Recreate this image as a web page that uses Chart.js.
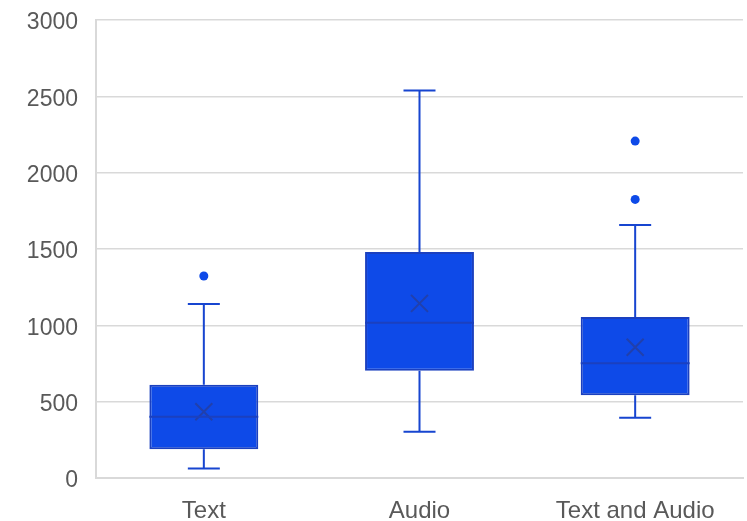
<!DOCTYPE html>
<html><head><meta charset="utf-8">
<script src="https://cdn.jsdelivr.net/npm/chart.js@4"></script>
<style>html,body{margin:0;padding:0;background:#fff}#w{width:747px;height:521px}</style>
</head><body><div id="w"><canvas id="c"></canvas></div>
<script>
const categories = ['Text', 'Audio', 'Text and Audio'];
const q1Values = [188, 703, 542];
const q3Values = [611, 1480, 1055];
const medianValues = [401, 1017, 751];
const meanValues = [434, 1144, 856];
const whiskerLow = [63, 303, 395];
const whiskerHigh = [1140, 2539, 1657];
const outliers = [[1323], [], [1825, 2207]];
const yTicks = [0, 500, 1000, 1500, 2000, 2500, 3000];

const fill = '#0e4ae8';
const dark = '#1b40bf';
const meanColor = '#2140ac';
const line = '#1745d0';

const outlierData = [];
outliers.forEach((arr, i) => arr.forEach(v => outlierData.push({x: categories[i], y: v})));

const boxPlugin = {
  id: 'boxExtras',
  afterDatasetsDraw(chart) {
    const ctx = chart.ctx;
    const xs = chart.scales.x, ys = chart.scales.y;
    const meta = chart.getDatasetMeta(0);
    ctx.save();
    categories.forEach((c, i) => {
      const bar = meta.data[i];
      const cx = xs.getPixelForValue(i);
      const half = bar.width / 2;
      const capHalf = 16;
      ctx.strokeStyle = line;
      ctx.lineWidth = 2;
      ctx.beginPath();
      ctx.moveTo(cx, ys.getPixelForValue(q3Values[i]));
      ctx.lineTo(cx, ys.getPixelForValue(whiskerHigh[i]));
      ctx.moveTo(cx - capHalf, ys.getPixelForValue(whiskerHigh[i]));
      ctx.lineTo(cx + capHalf, ys.getPixelForValue(whiskerHigh[i]));
      ctx.moveTo(cx, ys.getPixelForValue(q1Values[i]));
      ctx.lineTo(cx, ys.getPixelForValue(whiskerLow[i]));
      ctx.moveTo(cx - capHalf, ys.getPixelForValue(whiskerLow[i]));
      ctx.lineTo(cx + capHalf, ys.getPixelForValue(whiskerLow[i]));
      ctx.stroke();
      ctx.strokeStyle = dark;
      ctx.lineWidth = 2;
      ctx.beginPath();
      const my = ys.getPixelForValue(medianValues[i]);
      ctx.moveTo(cx - half, my);
      ctx.lineTo(cx + half, my);
      ctx.stroke();
    });
    ctx.restore();
  }
};

new Chart(document.getElementById('c'), {
  type: 'bar',
  data: {
    labels: categories,
    datasets: [
      {
        type: 'bar',
        data: categories.map((c, i) => [q1Values[i], q3Values[i]]),
        backgroundColor: fill,
        borderColor: dark,
        borderWidth: 2,
        borderSkipped: false,
        categoryPercentage: 1,
        barPercentage: 0.505,
        order: 3
      },
      {
        type: 'line',
        data: categories.map((c, i) => ({x: c, y: meanValues[i]})),
        showLine: false,
        pointStyle: 'crossRot',
        pointRadius: 12,
        pointBorderColor: meanColor,
        pointBorderWidth: 2,
        pointBackgroundColor: 'transparent',
        order: 1
      },
      {
        type: 'line',
        data: outlierData,
        showLine: false,
        pointStyle: 'circle',
        pointRadius: 4.5,
        pointBorderWidth: 0,
        pointBackgroundColor: fill,
        pointBorderColor: fill,
        order: 1
      }
    ]
  },
  options: {
    responsive: true,
    maintainAspectRatio: false,
    animation: false,
    events: [],
    layout: {autoPadding: false, padding: {left: 0, right: 4, top: 20, bottom: 0}},
    plugins: {legend: {display: false}, tooltip: {enabled: false}},
    scales: {
      x: {
        grid: {display: false, drawTicks: false},
        border: {display: true, color: '#d9d9d9', width: 2},
        ticks: {color: '#595959', font: {family: 'Liberation Sans, Arial, sans-serif', size: 24, lineHeight: 1}, padding: 21},
        afterFit(s) { s.height = 43; s.paddingLeft = 0; s.paddingRight = 0; }
      },
      y: {
        min: 0, max: 3000,
        afterBuildTicks(s) { s.ticks = yTicks.map(v => ({value: v})); },
        grid: {color: '#d9d9d9', lineWidth: 1.5, drawTicks: false},
        border: {display: true, color: '#d9d9d9', width: 2},
        ticks: {color: '#595959', font: {family: 'Liberation Sans, Arial, sans-serif', size: 23, lineHeight: 1}, padding: 18,
          labelOffset: 3, callback: v => String(v)},
        afterFit(s) { s.width = 96; s.paddingTop = 0; s.paddingBottom = 0; }
      }
    }
  },
  plugins: [boxPlugin]
});
</script>
</body></html>
